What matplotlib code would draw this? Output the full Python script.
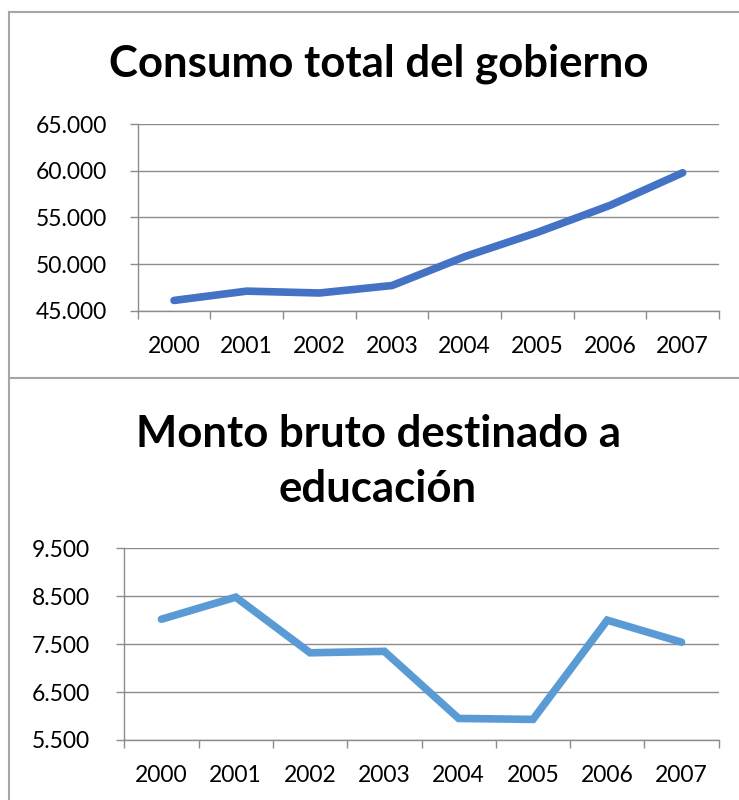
import matplotlib
matplotlib.use("Agg")
import matplotlib.pyplot as plt
from matplotlib.ticker import FuncFormatter, FixedLocator
from matplotlib.lines import Line2D

plt.rcParams['font.family'] = ['Lato', 'DejaVu Sans']

W, H = 739, 800

years = ['2000', '2001', '2002', '2003', '2004', '2005', '2006', '2007']
consumo = [46100, 47100, 46900, 47700, 50800, 53400, 56300, 59800]
educacion = [8020, 8480, 7320, 7350, 5950, 5930, 8000, 7540]

title_top = 'Consumo total del gobierno'
title_bottom = 'Monto bruto destinado a\neducación'

grid_col = '#8c8c8c'
border_col = '#a6a6a6'


def miles(v, pos):
    return f"{v:,.0f}".replace(',', '.')


def px_axes(fig, left, right, top, bottom):
    return fig.add_axes([left / W, 1 - bottom / H, (right - left) / W, (bottom - top) / H])


def style_axes(ax, ymin, ymax, step, ypad):
    x = list(range(len(years)))
    ax.set_xlim(-0.5, len(years) - 0.5)
    ax.set_ylim(ymin, ymax)
    ax.set_yticks(list(range(ymin, ymax + 1, step)))
    ax.yaxis.set_major_formatter(FuncFormatter(miles))
    ax.set_xticks(x)
    ax.set_xticklabels(years)
    # ticks between categories, labels centred
    ax.xaxis.set_minor_locator(FixedLocator([i - 0.5 for i in range(len(years) + 1)]))
    ax.tick_params(axis='x', which='major', length=0, pad=18, labelsize=16.5, colors='black')
    ax.tick_params(axis='x', which='minor', length=6, width=1, color=grid_col)
    ax.tick_params(axis='y', length=6, width=1, color=grid_col, pad=ypad, labelsize=16.5)
    ax.grid(axis='y', color=grid_col, lw=1)
    ax.set_axisbelow(True)
    for s in ['top', 'right']:
        ax.spines[s].set_visible(False)
    for s in ['left', 'bottom']:
        ax.spines[s].set_color(grid_col)
        ax.spines[s].set_linewidth(1)


fig = plt.figure(figsize=(W / 100, H / 100), dpi=100)

# chart frames
for (x0, y0, x1, y1) in [(9, 12, 9, 800), (9, 12, 739, 12), (9, 378, 739, 378)]:
    fig.add_artist(Line2D([x0 / W, x1 / W], [1 - y0 / H, 1 - y1 / H], color=border_col, lw=1.5))

ax1 = px_axes(fig, 137.7, 719, 124.3, 310.7)
style_axes(ax1, 45000, 65000, 5000, 16)
ax1.plot(range(len(years)), consumo, color='#4472C4', lw=5.5,
         solid_capstyle='round', solid_joinstyle='round')

ax2 = px_axes(fig, 124.3, 718.7, 548.3, 740)
style_axes(ax2, 5500, 9500, 1000, 19)
ax2.plot(range(len(years)), educacion, color='#5B9BD5', lw=5.5,
         solid_capstyle='round', solid_joinstyle='miter')

fig.text(379 / W, 1 - 77 / H, title_top, ha='center', va='baseline',
         fontsize=31.5, fontweight='bold')
fig.text(378 / W, 1 - 502 / H, title_bottom, ha='center', va='baseline',
         fontsize=31.5, fontweight='bold', linespacing=1.45, multialignment='center')

fig.savefig('out.png', dpi=100)
